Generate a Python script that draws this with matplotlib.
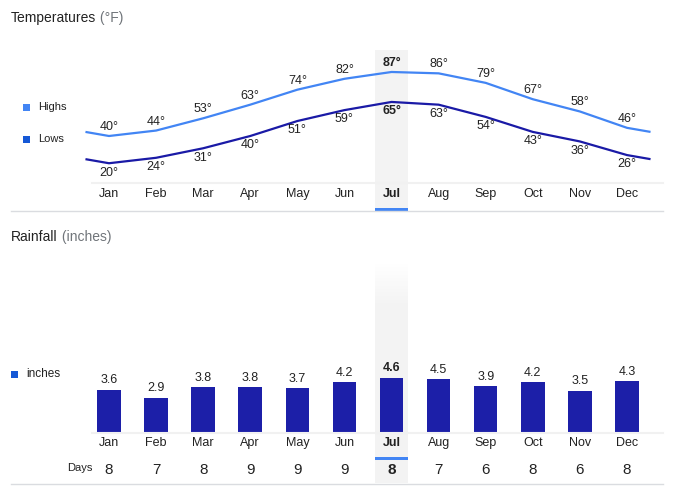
import numpy as np
import matplotlib
matplotlib.use("Agg")
import matplotlib.pyplot as plt
from matplotlib.patches import Rectangle
from matplotlib.lines import Line2D
from matplotlib.transforms import blended_transform_factory

plt.rcParams['font.family'] = ['Liberation Sans', 'DejaVu Sans']

months = ['Jan', 'Feb', 'Mar', 'Apr', 'May', 'Jun', 'Jul', 'Aug', 'Sep', 'Oct', 'Nov', 'Dec']
highs = [40, 44, 53, 63, 74, 82, 87, 86, 79, 67, 58, 46]
lows = [20, 24, 31, 40, 51, 59, 65, 63, 54, 43, 36, 26]
rain = [3.6, 2.9, 3.8, 3.8, 3.7, 4.2, 4.6, 4.5, 3.9, 4.2, 3.5, 4.3]
days = [8, 7, 8, 9, 9, 9, 8, 7, 6, 8, 6, 8]
sel = 6  # highlighted month (Jul)

W, H = 673, 491
fig = plt.figure(figsize=(W / 100, H / 100), dpi=100)
fig.patch.set_facecolor('white')

def fx(px):
    return px / W

def fy(py):
    return 1 - py / H

C_HI = '#4285f4'
C_LO = '#1a1aa6'
C_BAR = '#1c1fa8'
C_LEG_LO = '#1558d6'
C_TXT = '#222222'
C_SUB = '#70757a'
C_BASE = '#f1f1f1'
C_SEP = '#dadce0'
C_BAND = '#f3f3f3'

X0, X1 = 80, 663
step = 47.09
xlim = ((X0 - 109) / step, (X1 - 109) / step)

# ---------------- Temperatures ----------------
t_top, t_bot = 50, 183
ax1 = fig.add_axes([fx(X0), fy(t_bot), fx(X1) - fx(X0), (t_bot - t_top) / H])
ax1.set_xlim(*xlim)
px_per_deg = 1.362
ax1.set_ylim(40 - (t_bot - 136) / px_per_deg, 40 + (136 - t_top) / px_per_deg)
ax1.axis('off')
tr1 = blended_transform_factory(ax1.transData, fig.transFigure)

# highlight band
ax1.add_patch(Rectangle((sel - 0.35, fy(208)), 0.7, fy(t_top) - fy(208), transform=tr1,
                        facecolor=C_BAND, edgecolor='none', clip_on=False, zorder=0))
# underline
ax1.add_patch(Rectangle((sel - 0.35, fy(210.5)), 0.7, fy(207.5) - fy(210.5), transform=tr1,
                        facecolor=C_HI, edgecolor='none', clip_on=False, zorder=1))

xs = np.arange(12)
xe = np.concatenate([[-0.5], xs, [11.5]])
hi_wrap = np.mean([highs[-1], highs[0]])
lo_wrap = np.mean([lows[-1], lows[0]])
hi_e = np.concatenate([[hi_wrap], highs, [hi_wrap]])
lo_e = np.concatenate([[lo_wrap], lows, [lo_wrap]])
ax1.plot(xe, hi_e, color=C_HI, lw=1.6, clip_on=False, zorder=3, solid_capstyle='butt')
ax1.plot(xe, lo_e, color=C_LO, lw=1.6, clip_on=False, zorder=3, solid_capstyle='butt')

for i in range(12):
    w = 'bold' if i == sel else 'normal'
    ax1.annotate(f'{highs[i]}°', (i, highs[i]), xytext=(0, 6.5), textcoords='offset points',
                 ha='center', va='center', fontsize=9, color=C_TXT, fontweight=w,
                 annotation_clip=False)
    ax1.annotate(f'{lows[i]}°', (i, lows[i]), xytext=(0, -6.7), textcoords='offset points',
                 ha='center', va='center', fontsize=9, color=C_TXT, fontweight=w,
                 annotation_clip=False)
    ax1.text(i, fy(194), months[i], transform=tr1, ha='center', va='center', fontsize=9,
             color=C_TXT, fontweight=w, clip_on=False)

fig.add_artist(Line2D([fx(92), fx(663)], [fy(183), fy(183)], color=C_BASE, lw=1.5))
fig.add_artist(Line2D([fx(11), fx(663)], [fy(211), fy(211)], color=C_SEP, lw=1))

t1 = fig.text(fx(11), fy(18), 'Temperatures', ha='left', va='center', fontsize=10, color=C_TXT)
ax1.annotate(' (°F)', xy=(1, 0.5), xycoords=t1, ha='left', va='center', fontsize=10,
             color=C_SUB, annotation_clip=False)

# legend
fig.add_artist(Rectangle((fx(23), fy(110.5)), 7 / W, 7 / H, facecolor=C_HI, edgecolor='none'))
fig.text(fx(38), fy(107), 'Highs', ha='left', va='center', fontsize=8, color=C_TXT)
fig.add_artist(Rectangle((fx(23), fy(142.5)), 7 / W, 7 / H, facecolor=C_LEG_LO, edgecolor='none'))
fig.text(fx(38), fy(139), 'Lows', ha='left', va='center', fontsize=8, color=C_TXT)

# ---------------- Rainfall ----------------
r_top, r_bot = 267, 432
ax2 = fig.add_axes([fx(X0), fy(r_bot), fx(X1) - fx(X0), (r_bot - r_top) / H])
ax2.set_xlim(*xlim)
px_per_in = 11.8
ax2.set_ylim(0, (r_bot - r_top) / px_per_in)
ax2.axis('off')
tr2 = blended_transform_factory(ax2.transData, fig.transFigure)

# gradient highlight band
g0, g1, gend = 262, 305, 483
n = 40
edges = np.linspace(g0, g1, n + 1)
base_rgb = np.array(matplotlib.colors.to_rgb(C_BAND))
for k in range(n):
    a = (k + 0.5) / n
    col = 1 - (1 - base_rgb) * a
    ax2.add_patch(Rectangle((sel - 0.35, fy(edges[k + 1])), 0.7, fy(edges[k]) - fy(edges[k + 1]),
                            transform=tr2, facecolor=col, edgecolor='none', clip_on=False,
                            zorder=0, antialiased=False))
ax2.add_patch(Rectangle((sel - 0.35, fy(gend)), 0.7, fy(g1) - fy(gend), transform=tr2,
                        facecolor=C_BAND, edgecolor='none', clip_on=False, zorder=0))
ax2.add_patch(Rectangle((sel - 0.35, fy(459.5)), 0.7, fy(456.5) - fy(459.5), transform=tr2,
                        facecolor=C_HI, edgecolor='none', clip_on=False, zorder=1))

ax2.bar(xs, rain, width=0.5, color=C_BAR, edgecolor='none', zorder=3)
for i in range(12):
    w = 'bold' if i == sel else 'normal'
    ax2.annotate(f'{rain[i]}', (i, rain[i]), xytext=(0, 6.7), textcoords='offset points',
                 ha='center', va='center', fontsize=9, color=C_TXT, fontweight=w,
                 annotation_clip=False)
    ax2.text(i, fy(443), months[i], transform=tr2, ha='center', va='center', fontsize=9,
             color=C_TXT, fontweight=w, clip_on=False)
    ax2.text(i, fy(470), f'{days[i]}', transform=tr2, ha='center', va='center', fontsize=11,
             color=C_TXT, fontweight=w, clip_on=False)

fig.text(fx(93), fy(468), 'Days', ha='right', va='center', fontsize=8, color=C_TXT)

fig.add_artist(Line2D([fx(92), fx(663)], [fy(432.5), fy(432.5)], color=C_BASE, lw=1.5, zorder=2))
fig.add_artist(Line2D([fx(11), fx(663)], [fy(483.5), fy(483.5)], color=C_SEP, lw=1))

t2 = fig.text(fx(11), fy(237), 'Rainfall', ha='left', va='center', fontsize=10, color=C_TXT)
ax2.annotate(' (inches)', xy=(1, 0.5), xycoords=t2, ha='left', va='center', fontsize=10,
             color=C_SUB, annotation_clip=False)

fig.add_artist(Rectangle((fx(11), fy(377.5)), 7 / W, 7 / H, facecolor=C_LEG_LO, edgecolor='none'))
fig.text(fx(26), fy(374), 'inches', ha='left', va='center', fontsize=8.5, color=C_TXT)

fig.savefig('out.png', dpi=100, facecolor='white')
